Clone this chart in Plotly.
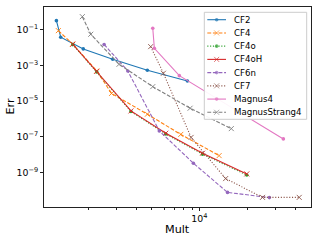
import plotly.graph_objects as go

# ---------------- data ----------------
cf2_mult = [1262, 1343, 1862, 2851, 4710, 8410]
cf2_err = [0.333, 0.039, 8.6e-3, 2.26e-3, 5.45e-4, 1.36e-4]

cf4_mult = [1298, 1595, 2264, 2805, 4710, 7640, 13310]
cf4_err = [9.14e-2, 1.63e-2, 4.98e-4, 2.71e-5, 1.84e-6, 1.35e-7, 8.67e-9]

cf4o_mult = [1600, 2264, 3715, 6150, 10470, 19870]
cf4o_err = [1.50e-2, 4.40e-4, 2.60e-6, 1.42e-7, 1.05e-8, 7.0e-10]

cf4oh_mult = [1600, 2264, 3715, 6150, 10470, 19870]
cf4oh_err = [1.57e-2, 4.67e-4, 2.81e-6, 1.57e-7, 1.18e-8, 8.13e-10]

cf6n_mult = [2518, 3548, 5598, 9170, 15030, 27560]
cf6n_err = [1.53e-2, 4.98e-4, 2.12e-7, 3.24e-9, 7.43e-11, 3.79e-11]

cf7_mult = [4943, 5941, 8870, 14630, 24950, 42460]
cf7_err = [1.154e-2, 3.69e-4, 9.14e-8, 4.43e-10, 3.89e-11, 3.89e-11]

magnus4_mult = [5093, 5212, 7482, 33740]
magnus4_err = [0.125, 9.37e-3, 2.71e-4, 7.52e-8]

strang_mult = [1837, 2075, 3126, 5093, 8745, 15880]
strang_err = [0.558, 0.0573, 1.18e-3, 6.53e-5, 3.99e-6, 2.85e-7]

names = ["CF2", "CF4", "CF4o", "CF4oH", "CF6n", "CF7", "Magnus4", "MagnusStrang4"]
xs = [cf2_mult, cf4_mult, cf4o_mult, cf4oh_mult, cf6n_mult, cf7_mult, magnus4_mult, strang_mult]
ys = [cf2_err, cf4_err, cf4o_err, cf4oh_err, cf6n_err, cf7_err, magnus4_err, strang_err]

y_tick_vals = [1e-1, 1e-3, 1e-5, 1e-7, 1e-9]
y_tick_text = ["10<sup>−1</sup>", "10<sup>−3</sup>", "10<sup>−5</sup>", "10<sup>−7</sup>", "10<sup>−9</sup>"]
x_tick_vals = [1e4]
x_tick_text = ["10<sup>4</sup>"]
x_minor_vals = [2e3, 3e3, 4e3, 5e3, 6e3, 7e3, 8e3, 9e3, 2e4, 3e4, 4e4]

# ---------------- styles ----------------
colors = ["#1f77b4", "#ff7f0e", "#2ca02c", "#d62728", "#9467bd", "#8c564b", "#e377c2", "#7f7f7f"]
DASHED = "3.9px,1.7px"
DOTTED = "1.1px,1.7px"
dashes = ["solid", DASHED, DOTTED, "solid", DASHED, DOTTED, "solid", DASHED]
symbols = ["dot", "x", "dot", "x", "dot", "x", "dot", "x"]

FONT = "DejaVu Sans"
W, H = 316, 241
L, R, T, B = 44, 5, 7, 34
PW, PH = W - L - R, H - T - B


def px_to_paper(px, py):
    return (px - L) / PW, (H - B - py) / PH


def marker_style(sym, col):
    if sym == "x":
        return dict(symbol="x-thin", size=5, color=col, line=dict(color=col, width=0.9))
    return dict(symbol="circle", size=3.6, color=col, line=dict(width=0))


fig = go.Figure()
for name, x, y, c, d, s in zip(names, xs, ys, colors, dashes, symbols):
    fig.add_trace(go.Scatter(
        x=x, y=y, name=name, mode="lines+markers",
        line=dict(color=c, width=1.1, dash=d),
        marker=marker_style(s, c),
        showlegend=False, cliponaxis=False,
    ))

# ---------------- legend drawn on an overlay axis in pixel units ----------------
box_l, box_r, box_t, box_b = 204.3, 306.7, 12.3, 119.3
fig.add_trace(go.Scatter(
    x=[box_l, box_r, box_r, box_l, box_l], y=[box_t, box_t, box_b, box_b, box_t],
    mode="lines", fill="toself", fillcolor="rgba(255,255,255,0.93)",
    line=dict(color="#cccccc", width=1), xaxis="x2", yaxis="y2",
    showlegend=False, hoverinfo="skip",
))
row0, row_h = 19.7, 13.23
ln0, ln1 = 207.3, 226.0
annotations = []
for i, (name, c, d, s) in enumerate(zip(names, colors, dashes, symbols)):
    yy = row0 + row_h * i
    m = marker_style(s, c)
    m["size"] = [0, m["size"], 0]
    fig.add_trace(go.Scatter(
        x=[ln0, (ln0 + ln1) / 2, ln1], y=[yy, yy, yy], mode="lines+markers",
        line=dict(color=c, width=1.1, dash=d), marker=m,
        xaxis="x2", yaxis="y2", showlegend=False, hoverinfo="skip",
    ))
    tx, ty = px_to_paper(232.3, yy)
    annotations.append(dict(
        x=tx, y=ty, xref="paper", yref="paper", text=name, showarrow=False,
        xanchor="left", yanchor="middle", font=dict(family=FONT, size=8.6, color="#000000"),
    ))

# axis titles
mx, my = px_to_paper(177.5, 229)
annotations.append(dict(x=mx, y=my, xref="paper", yref="paper", text="Mult", showarrow=False,
                        xanchor="center", yanchor="middle",
                        font=dict(family=FONT, size=11.2, color="#000000")))
ex, ey = px_to_paper(9.5, 107)
annotations.append(dict(x=ex, y=ey, xref="paper", yref="paper", text="Err", showarrow=False,
                        xanchor="center", yanchor="middle", textangle=-90,
                        font=dict(family=FONT, size=11.2, color="#000000")))

axis_common = dict(
    type="log", showgrid=False, zeroline=False, showline=True, mirror=True,
    linecolor="#222222", linewidth=1, ticks="outside", ticklen=3, tickwidth=1,
    tickcolor="#222222", tickfont=dict(family=FONT, size=9.4, color="#000000"),
    automargin=False,
)

fig.update_layout(
    width=W, height=H, margin=dict(l=L, r=R, t=T, b=B, autoexpand=False),
    paper_bgcolor="white", plot_bgcolor="white",
    font=dict(family=FONT, color="#000000"),
    xaxis=dict(
        **axis_common, range=[3.023, 4.702],
        tickmode="array", tickvals=x_tick_vals, ticktext=x_tick_text,
        minor=dict(tickmode="array", tickvals=x_minor_vals, ticks="outside",
                   ticklen=2, tickwidth=1, tickcolor="#222222", showgrid=False),
    ),
    yaxis=dict(
        **axis_common, range=[-10.95, 0.29],
        tickmode="array", tickvals=y_tick_vals, ticktext=y_tick_text,
    ),
    xaxis2=dict(overlaying="x", range=[L, W - R], visible=False, fixedrange=True),
    yaxis2=dict(overlaying="y", range=[H - B, T], visible=False, fixedrange=True),
    annotations=annotations,
    showlegend=False,
)

fig.write_html("out.html", config={"displayModeBar": False},
               post_script="document.body.style.margin='0';")
